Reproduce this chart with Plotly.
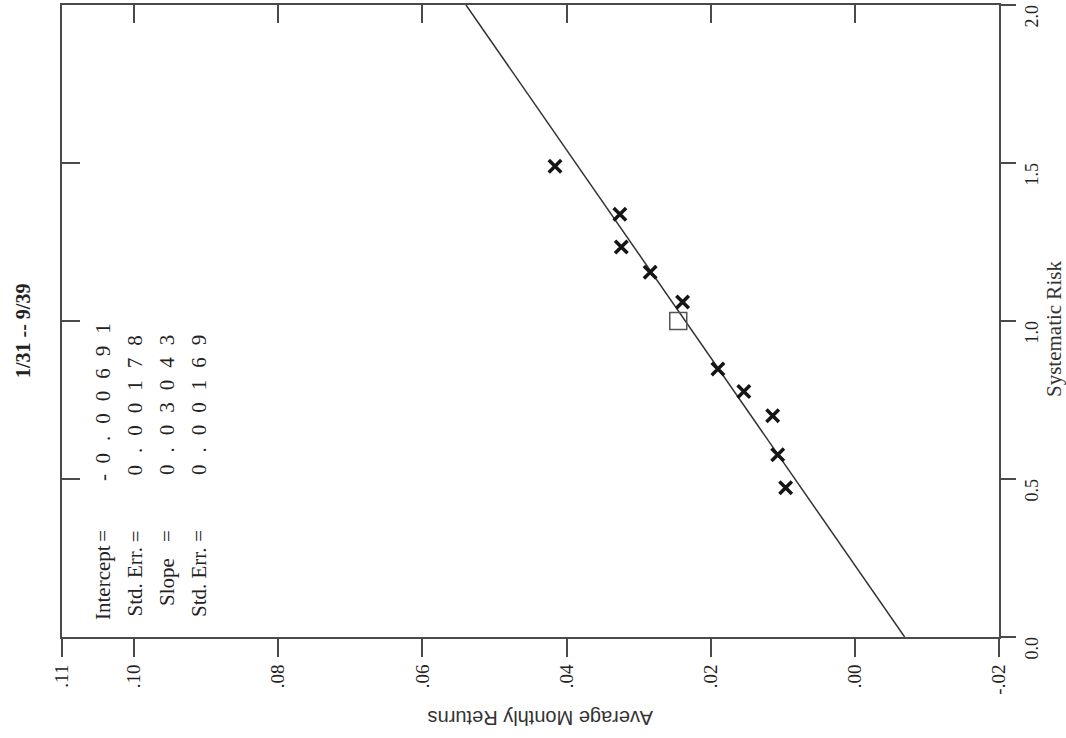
import plotly.graph_objects as go

# ---------------- data ----------------
portfolio_beta = [1.49, 1.338, 1.234, 1.154, 1.060, 0.848, 0.777, 0.700, 0.577, 0.472]
portfolio_return = [0.0416, 0.0326, 0.0324, 0.0284, 0.0239, 0.0190, 0.0154, 0.0114, 0.0107, 0.0096]
market_beta = [1.0]
market_return = [0.0245]
line_beta = [0.0, 2.0]
line_return = [-0.00691, 0.05395]

return_ticks = [0.11, 0.10, 0.08, 0.06, 0.04, 0.02, 0.00, -0.02]
return_ticktext = [".11", ".10", ".08", ".06", ".04", ".02", ".00", "-.02"]
beta_ticks = [0.0, 0.5, 1.0, 1.5, 2.0]
beta_ticktext = ["0.0", "0.5", "1.0", "1.5", "2.0"]
inner_return_ticks = [0.10, 0.08, 0.06, 0.04, 0.02, 0.00]
inner_beta_ticks = [0.5, 1.0, 1.5]

stat_labels = ["Intercept", "Std. Err.", "Slope", "Std. Err."]
stat_signs = ["-", "", "", ""]
stat_values = ["0.00691", "0.00178", "0.03043", "0.00169"]
title_text = "1/31 -- 9/39"
x_title = "Average Monthly Returns"
y_title = "Systematic Risk"

SERIF = "Liberation Serif"
SANS = "Liberation Sans"
AX = "#4a4a4a"

fig = go.Figure()

fig.add_trace(go.Scatter(x=line_return, y=line_beta, mode="lines",
                         line=dict(color="#333333", width=1.5),
                         hoverinfo="skip", showlegend=False))
fig.add_trace(go.Scatter(x=portfolio_return, y=portfolio_beta, mode="markers",
                         marker=dict(symbol="x-thin", size=12.5,
                                     line=dict(width=3.5, color="#151515")),
                         showlegend=False))
fig.add_trace(go.Scatter(x=market_return, y=market_beta, mode="markers",
                         marker=dict(symbol="square-open", size=17, color="#555555",
                                     line=dict(width=1.5, color="#555555")),
                         showlegend=False))
# dummy traces so that the mirrored inner-tick axes are drawn
fig.add_trace(go.Scatter(x=line_return, y=line_beta, xaxis="x2", yaxis="y",
                         mode="markers", marker=dict(opacity=0),
                         hoverinfo="skip", showlegend=False))
fig.add_trace(go.Scatter(x=line_return, y=line_beta, xaxis="x", yaxis="y2",
                         mode="markers", marker=dict(opacity=0),
                         hoverinfo="skip", showlegend=False))

common_x = dict(range=[0.11, -0.02], showgrid=False, zeroline=False,
                showline=True, linecolor=AX, linewidth=2, automargin=False,
                tickcolor=AX, tickwidth=2, ticklen=18)
common_y = dict(range=[0, 2], showgrid=False, zeroline=False,
                showline=True, linecolor=AX, linewidth=2, automargin=False,
                tickcolor=AX, tickwidth=2)

fig.update_layout(
    width=1066, height=738,
    margin=dict(l=62, r=67, t=5, b=101, autoexpand=False),
    paper_bgcolor="white", plot_bgcolor="white",
    showlegend=False,
    xaxis=dict(**common_x, side="bottom", ticks="outside",
               tickmode="array", tickvals=return_ticks, ticktext=return_ticktext,
               tickangle=-90, ticklabeloverflow="allow",
               tickfont=dict(family=SERIF, size=19, color="#222")),
    xaxis2=dict(**common_x, side="top", overlaying="x", anchor="y", ticks="inside",
                tickmode="array", tickvals=inner_return_ticks, showticklabels=False),
    yaxis=dict(**common_y, side="right", anchor="x", ticks="outside", ticklen=15,
               tickmode="array", tickvals=beta_ticks, ticktext=beta_ticktext,
               tickangle=-90, ticklabelshift=14, ticklabeloverflow="allow",
               tickfont=dict(family=SERIF, size=18, color="#222")),
    yaxis2=dict(**common_y, side="left", overlaying="y", anchor="x", ticks="inside",
                ticklen=18, tickmode="array", tickvals=inner_beta_ticks,
                showticklabels=False),
)

ann = []
ann.append(dict(text="<b>" + title_text + "</b>", xref="paper", yref="paper",
                x=-0.0416, y=0.4842, xanchor="center", yanchor="middle",
                textangle=-90, showarrow=False,
                font=dict(family=SERIF, size=20, color="#222")))
ann.append(dict(text=x_title, xref="paper", yref="paper", x=0.5101, y=-0.1282,
                xanchor="center", yanchor="middle",
                textangle=180, showarrow=False,
                font=dict(family=SANS, size=20, color="#333")))
ann.append(dict(text=y_title, xref="paper", yref="paper", x=1.0587, y=0.4873,
                xanchor="center", yanchor="middle",
                textangle=-90, showarrow=False,
                font=dict(family=SERIF, size=21, color="#333")))

line_x = [0.0437, 0.0784, 0.1121, 0.1462]
for i, (lab, sgn, val) in enumerate(zip(stat_labels, stat_signs, stat_values)):
    ann.append(dict(text=lab, xref="paper", yref="paper", x=line_x[i], y=0.0870,
                    xanchor="center", yanchor="middle", textangle=-90, showarrow=False,
                    font=dict(family=SERIF, size=21, color="#222")))
    ann.append(dict(text="=", xref="paper", yref="paper", x=line_x[i], y=0.160,
                    xanchor="center", yanchor="middle", textangle=-90, showarrow=False,
                    font=dict(family=SERIF, size=21, color="#222")))
    vtext = '<span style="letter-spacing:12px">' + val + '</span>'
    if sgn:
        vtext = sgn + "\u00a0\u00a0" + vtext
    ann.append(dict(text=vtext, xref="paper", yref="paper", x=line_x[i],
                    y=0.2437 if sgn else 0.2532,
                    xanchor="center", yanchor="bottom", textangle=-90, showarrow=False,
                    font=dict(family=SERIF, size=21, color="#222")))
fig.update_layout(annotations=ann)

fig.write_html("out.html")
